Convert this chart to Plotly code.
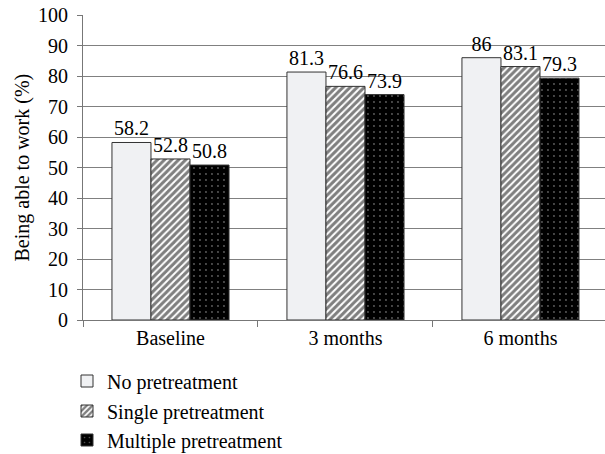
import plotly.graph_objects as go

categories = ["Baseline", "3 months", "6 months"]
no_pre = [58.2, 81.3, 86]
single_pre = [52.8, 76.6, 83.1]
multiple_pre = [50.8, 73.9, 79.3]
series_names = ["No pretreatment", "Single pretreatment", "Multiple pretreatment"]
y_ticks = list(range(0, 101, 10))
y_title = "Being able to work (%)"

FONT = "Liberation Serif"
FS = 20

def fmt(vals):
    return [f"{v:g}" for v in vals]

fig = go.Figure()
fig.add_trace(go.Bar(
    x=categories, y=no_pre, name=series_names[0], text=fmt(no_pre),
    marker=dict(color="#f0f1f3", line=dict(color="#333333", width=1)),
    legend="legend",
))
fig.add_trace(go.Bar(
    x=categories, y=single_pre, name=series_names[1], text=fmt(single_pre),
    marker=dict(color="white", line=dict(color="#333333", width=1),
                pattern=dict(shape="/", fgcolor="black", bgcolor="white",
                             size=5, solidity=0.6)),
    legend="legend2",
))
fig.add_trace(go.Bar(
    x=categories, y=multiple_pre, name=series_names[2], text=fmt(multiple_pre),
    marker=dict(color="black", line=dict(color="#333333", width=1),
                pattern=dict(shape=".", fgcolor="#bbbbbb", bgcolor="black",
                             size=6, solidity=0.08)),
    legend="legend3",
))
fig.update_traces(textposition="outside", constraintext="none", cliponaxis=False,
                  textfont=dict(family=FONT, size=FS, color="black"))

W, H = 605, 454
ML, MR, MT, MB = 83, 0, 15, 134
leg_common = dict(xref="container", yref="container", xanchor="left", yanchor="middle",
                  bgcolor="rgba(0,0,0,0)", borderwidth=0,
                  font=dict(family=FONT, size=FS, color="black"))
lx = 67 / W
fig.update_layout(
    width=W, height=H,
    margin=dict(l=ML, r=MR, t=MT, b=MB, autoexpand=False),
    paper_bgcolor="white", plot_bgcolor="white",
    font=dict(family=FONT, size=FS, color="black"),
    barmode="group", bargap=0.331, bargroupgap=0,
    showlegend=True,
    legend=dict(x=lx, y=1 - 381 / H, **leg_common),
    legend2=dict(x=lx, y=1 - 411 / H, **leg_common),
    legend3=dict(x=lx, y=1 - 440 / H, **leg_common),
    xaxis=dict(range=[-0.5, 2.483], showline=True, linecolor="#777777", linewidth=1,
               ticks="outside", tickson="boundaries", ticklen=6, tickcolor="#777777",
               tickfont=dict(family=FONT, size=FS, color="black"), showgrid=False),
    yaxis=dict(range=[0, 100], tickvals=y_ticks, showgrid=True, gridcolor="#808080",
               gridwidth=1, showline=True, linecolor="#777777", linewidth=1,
               ticks="outside", ticklen=5, tickcolor="#777777", zeroline=False,
               ticklabelstandoff=5,
               tickfont=dict(family=FONT, size=FS, color="black")),
    annotations=[dict(text=y_title, textangle=-90, xref="paper", yref="paper",
                      x=(22 - ML) / (W - ML - MR), y=0.5, xanchor="center",
                      yanchor="middle", showarrow=False,
                      font=dict(family=FONT, size=FS, color="black"))],
)

fig.write_html("out.html", config={"displayModeBar": False},
               post_script="document.body.style.margin='0';")
